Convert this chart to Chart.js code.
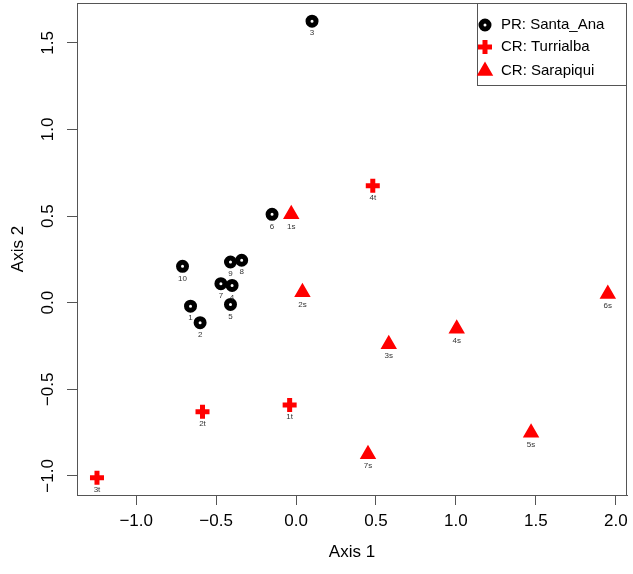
<!DOCTYPE html>
<html>
<head>
<meta charset="utf-8">
<script src="https://cdn.jsdelivr.net/npm/chart.js@4/dist/chart.umd.min.js"></script>
<style>
  body { margin: 0; background: #fff; }
  #wrap { width: 633px; height: 574px; }
</style>
</head>
<body>
<div id="wrap"><canvas id="ord" width="633" height="574"></canvas></div>
<script>
// ordination scores
const santaAnaNames = ['1', '2', '3', '4', '5', '6', '7', '8', '9', '10'];
const santaAnaX = [-0.66, -0.60, 0.10, -0.40, -0.41, -0.15, -0.47, -0.34, -0.41, -0.71];
const santaAnaY = [-0.02, -0.115, 1.625, 0.10, -0.01, 0.51, 0.11, 0.245, 0.235, 0.21];

const turrialbaNames = ['1t', '2t', '3t', '4t'];
const turrialbaX = [-0.04, -0.585, -1.245, 0.48];
const turrialbaY = [-0.59, -0.63, -1.01, 0.675];

const sarapiquiNames = ['1s', '2s', '3s', '4s', '5s', '6s', '7s'];
const sarapiquiX = [-0.03, 0.04, 0.58, 1.005, 1.47, 1.95, 0.45];
const sarapiquiY = [0.51, 0.06, -0.24, -0.15, -0.75, 0.05, -0.875];

const xTicks = [-1.0, -0.5, 0.0, 0.5, 1.0, 1.5, 2.0];
const yTicks = [-1.0, -0.5, 0.0, 0.5, 1.0, 1.5];

const FONT = '"Liberation Sans", Arial, Helvetica, sans-serif';

function pts(xs, ys) {
    return xs.map((x, i) => ({ x: x, y: ys[i] }));
}
function fmt(v) {
    return (v < 0 ? '\u2212' : '') + Math.abs(v).toFixed(1);
}

const datasets = [
    {
        label: 'PR: Santa_Ana',
        names: santaAnaNames,
        data: pts(santaAnaX, santaAnaY),
        pointStyle: 'circle',
        pointRadius: 4,
        pointBorderWidth: 5,
        pointBackgroundColor: '#ffffff',
        pointBorderColor: '#000000'
    },
    {
        label: 'CR: Turrialba',
        names: turrialbaNames,
        data: pts(turrialbaX, turrialbaY),
        pointStyle: 'cross',
        pointRadius: 7,
        pointBorderWidth: 5,
        pointBackgroundColor: '#ff0000',
        pointBorderColor: '#ff0000'
    },
    {
        label: 'CR: Sarapiqui',
        names: sarapiquiNames,
        data: pts(sarapiquiX, sarapiquiY),
        pointStyle: 'triangle',
        pointRadius: 7.5,
        pointBorderWidth: 2,
        pointBackgroundColor: '#ff0000',
        pointBorderColor: '#ff0000'
    }
];

// full box round the plot area + point names + legend + rotated y labels
const decor = {
    id: 'decor',
    afterDatasetsDraw(chart) {
        const ctx = chart.ctx;
        const a = chart.chartArea;
        ctx.save();

        // point names under each mark
        ctx.font = '8px ' + FONT;
        ctx.fillStyle = '#333';
        ctx.textAlign = 'center';
        ctx.textBaseline = 'middle';
        chart.data.datasets.forEach((ds, i) => {
            chart.getDatasetMeta(i).data.forEach((el, j) => {
                ctx.fillText(ds.names[j], el.x, el.y + 12);
            });
        });

        // box
        ctx.strokeStyle = '#555';
        ctx.lineWidth = 1;
        ctx.strokeRect(a.left + 0.5, a.top + 0.5, a.right - a.left - 1, a.bottom - a.top);

        // y tick labels, turned like in R
        const ys = chart.scales.y;
        ctx.font = '17px ' + FONT;
        ctx.fillStyle = '#000';
        ys.ticks.forEach(t => {
            const py = ys.getPixelForValue(t.value);
            ctx.save();
            ctx.translate(48, py);
            ctx.rotate(-Math.PI / 2);
            ctx.textAlign = 'center';
            ctx.textBaseline = 'middle';
            ctx.fillText(fmt(t.value), 0, 0);
            ctx.restore();
        });

        // legend
        const lx = 477, ly = a.top, lw = a.right - 477, lh = 82;
        ctx.fillStyle = '#fff';
        ctx.fillRect(lx, ly, lw, lh);
        ctx.strokeStyle = '#555';
        ctx.strokeRect(lx + 0.5, ly + 0.5, lw - 1, lh);
        const rows = [25, 47, 71];
        chart.data.datasets.forEach((ds, i) => {
            ctx.save();
            ctx.fillStyle = ds.pointBackgroundColor;
            ctx.strokeStyle = ds.pointBorderColor;
            ctx.lineWidth = ds.pointBorderWidth;
            Chart.helpers.drawPoint(ctx, {
                pointStyle: ds.pointStyle,
                radius: ds.pointRadius,
                borderWidth: ds.pointBorderWidth,
                rotation: 0
            }, 485, rows[i]);
            ctx.restore();
            ctx.font = '15px ' + FONT;
            ctx.fillStyle = '#000';
            ctx.textAlign = 'left';
            ctx.textBaseline = 'middle';
            ctx.fillText(ds.label, 501, rows[i]);
        });
        ctx.restore();
    }
};

const ctx = document.getElementById('ord').getContext('2d');
new Chart(ctx, {
    type: 'scatter',
    data: { datasets: datasets },
    options: {
        responsive: false,
        animation: false,
        layout: { autoPadding: false, padding: { top: 3, right: 6, left: 0, bottom: 0 } },
        plugins: {
            legend: { display: false },
            tooltip: { enabled: false }
        },
        scales: {
            x: {
                type: 'linear',
                min: -1.37,
                max: 2.07,
                afterBuildTicks: s => { s.ticks = xTicks.map(v => ({ value: v })); },
                afterFit: s => {
                    s.height = 79;
                    s.paddingLeft = 0; s.paddingRight = 0;
                },
                grid: { drawOnChartArea: false, drawTicks: true, tickLength: 10, color: '#555' },
                border: { display: true, color: '#555' },
                ticks: {
                    color: '#000',
                    font: { family: FONT, size: 17 },
                    padding: 6,
                    maxRotation: 0,
                    callback: v => fmt(v)
                },
                title: {
                    display: true,
                    text: 'Axis 1',
                    color: '#000',
                    font: { family: FONT, size: 17 },
                    padding: { top: 0, bottom: 11 }
                }
            },
            y: {
                type: 'linear',
                min: -1.11,
                max: 1.73,
                afterBuildTicks: s => { s.ticks = yTicks.map(v => ({ value: v })); },
                afterFit: s => {
                    s.width = 77;
                    s.paddingTop = 0; s.paddingBottom = 0;
                },
                grid: { drawOnChartArea: false, drawTicks: true, tickLength: 10, color: '#555' },
                border: { display: true, color: '#555' },
                ticks: { display: false },
                title: {
                    display: true,
                    text: 'Axis 2',
                    color: '#000',
                    font: { family: FONT, size: 17 },
                    padding: { top: 8, bottom: 0 }
                }
            }
        }
    },
    plugins: [decor]
});
</script>
</body>
</html>
